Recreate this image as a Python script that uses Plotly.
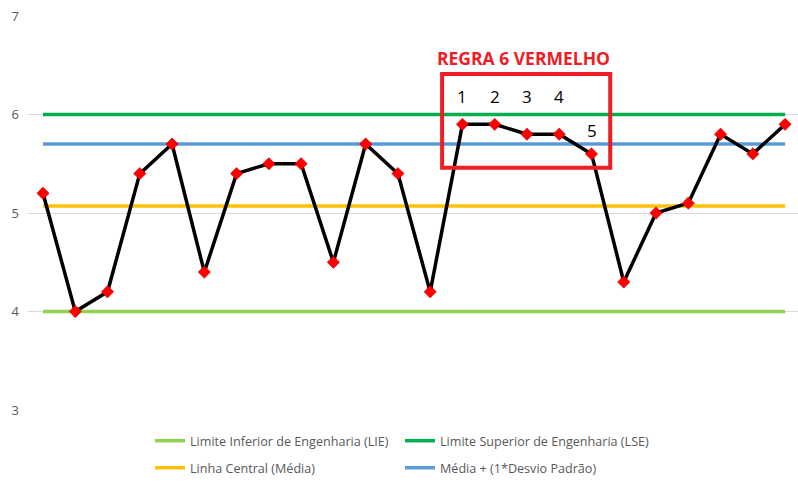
import plotly.graph_objects as go

# ---- data ----
samples = list(range(1, 25))
values = [5.2, 4.0, 4.2, 5.4, 5.7, 4.4, 5.4, 5.5, 5.5, 4.5, 5.7, 5.4,
          4.2, 5.9, 5.9, 5.8, 5.8, 5.6, 4.3, 5.0, 5.1, 5.8, 5.6, 5.9]
lie_value = 4.0
lse_value = 6.0
center_value = 5.07
plus1sd_value = 5.7

series_names = ["Limite Inferior de Engenharia (LIE)",
                "Limite Superior de Engenharia (LSE)",
                "Linha Central (Média)",
                "Média + (1*Desvio Padrão)"]
series_colors = ["#92D050", "#00B050", "#FFC000", "#5B9BD5"]
series_values = [lie_value, lse_value, center_value, plus1sd_value]
series_legends = ["legend", "legend", "legend2", "legend2"]

rule_title = "REGRA 6 VERMELHO"
rule_points = [14, 15, 16, 17, 18]      # sample numbers flagged
rule_labels = ["1", "2", "3", "4", "5"]
rule_label_y = [6.18, 6.18, 6.18, 6.18, 5.84]

y_ticks = [3, 4, 5, 6, 7]

fig = go.Figure()

for name, color, val, lg in zip(series_names, series_colors, series_values, series_legends):
    fig.add_trace(go.Scatter(
        x=samples, y=[val] * len(samples), mode="lines", name=name,
        line=dict(color=color, width=3.5), legend=lg, hoverinfo="skip"))

fig.add_trace(go.Scatter(
    x=samples, y=values, mode="lines+markers", name="Dados", showlegend=False,
    line=dict(color="#000000", width=3.5),
    marker=dict(symbol="diamond", size=9.5, color="#FF0000",
                line=dict(color="#C00000", width=0.5))))

# rule box and labels
fig.add_shape(type="rect", xref="x", yref="y",
              x0=rule_points[0] - 0.63, x1=rule_points[-1] + 0.58,
              y0=5.46, y1=6.41,
              line=dict(color="#EE1C25", width=4), fillcolor="rgba(0,0,0,0)")

fig.add_annotation(x=(rule_points[0] + rule_points[-1]) / 2 - 0.1, y=6.57,
                   xref="x", yref="y", text="<b>" + rule_title + "</b>",
                   showarrow=False, font=dict(family="Open Sans", size=17.5, color="#EE1C25"))

for px, lab, ly in zip(rule_points, rule_labels, rule_label_y):
    fig.add_annotation(x=px, y=ly, xref="x", yref="y", text=lab, showarrow=False,
                       font=dict(family="Open Sans", size=17, color="#000000"))

legend_x = (150 - 28) / 770
fig.update_layout(
    width=798, height=491,
    margin=dict(l=28, r=0, t=16, b=81),
    paper_bgcolor="white", plot_bgcolor="white",
    font=dict(family="Open Sans", color="#595959"),
    xaxis=dict(range=[0.535, 24.4], showgrid=False, showticklabels=False,
               zeroline=False, showline=False, fixedrange=True),
    yaxis=dict(range=[3, 7], tickvals=y_ticks, showgrid=True, gridcolor="#D9D9D9",
               gridwidth=1, zeroline=False, showline=False,
               tickfont=dict(size=13, color="#595959"), ticklabelstandoff=8),
    legend=dict(orientation="h", x=legend_x, xanchor="left",
                y=(410 - 441) / 394, yanchor="middle", entrywidth=205,
                font=dict(size=12.6, color="#595959"), bgcolor="rgba(0,0,0,0)"),
    legend2=dict(orientation="h", x=legend_x, xanchor="left",
                 y=(410 - 468) / 394, yanchor="middle", entrywidth=205,
                 font=dict(size=12.6, color="#595959"), bgcolor="rgba(0,0,0,0)"),
    showlegend=True,
)

fig.write_html("out.html")
